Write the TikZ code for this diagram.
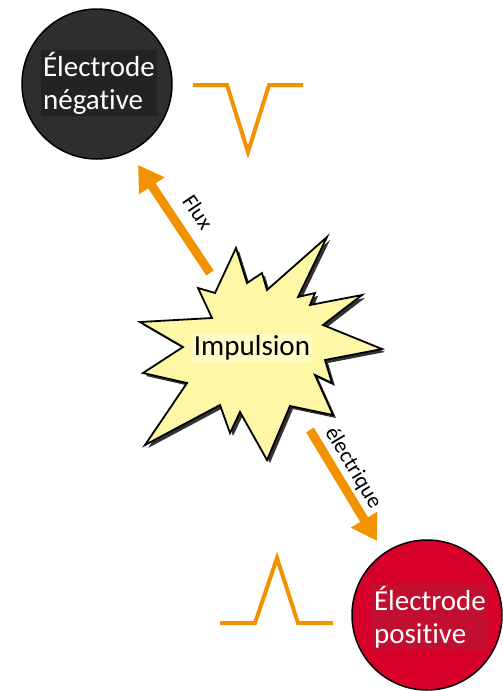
\documentclass[tikz,border=0pt]{standalone}
\usepackage{fontspec}
\setmainfont[Ligatures={NoCommon}]{Carlito}
\usetikzlibrary{arrows.meta}
\definecolor{orng}{HTML}{F39200}
\definecolor{negfill}{HTML}{2E2E2E}
\definecolor{negbox}{HTML}{232323}
\definecolor{posfill}{HTML}{D7002B}
\definecolor{posbox}{HTML}{C20F30}
\definecolor{starfill}{HTML}{FDF7A6}
\definecolor{starbox}{HTML}{FFFBC6}
\begin{document}
\begin{tikzpicture}[x=1pt,y=-1pt,
  electrode/.style={circle, draw=black, line width=1.5pt, minimum size=150pt, inner sep=0pt},
  etext/.style={text=white, font=\fontsize{29}{33}\selectfont, align=left, inner sep=2pt},
  pulse/.style={draw=orng, line width=4pt, line join=miter},
  flow/.style={draw=orng, line width=9pt, -{Triangle[width=29pt,length=25pt]}},
  lbl/.style={font=\fontsize{22}{25}\selectfont, inner sep=0pt}]
\useasboundingbox (0,0) rectangle (503,691);

% electrodes
\node[electrode, fill=negfill] (neg) at (97,84) {};
\node[etext, fill=negbox] (negtext) at (99,83) {Électrode\\négative};
\node[electrode, fill=posfill] (pos) at (427,615) {};
\node[etext, fill=posbox] (postext) at (430,617) {Électrode\\positive};

% pulses
\draw[pulse] (193,85) -- (227,85) -- (248,152) -- (269,85) -- (303,85);
\draw[pulse] (220,623) -- (255,623) -- (277,558) -- (298,623) -- (333,623);

% starburst
\def\starpath{(236,248) -- (247,283) -- (262,273) -- (267,290) -- (327,237) -- (298,297)
  -- (315,293) -- (310,305) -- (362,295) -- (323,325) -- (382,349) -- (325,360)
  -- (332,383) -- (315,375) -- (333,415) -- (290,406) -- (267,460) -- (240,412)
  -- (230,433) -- (220,405) -- (145,445) -- (187,383) -- (143,373) -- (183,347)
  -- (140,322) -- (212,318) -- (198,288) -- (215,293) -- cycle}
\fill[black!80, shift={(3,3)}] \starpath;
\draw[fill=starfill, draw=black, line width=1.8pt, line join=miter] \starpath;
\node[fill=starbox, font=\fontsize{29}{33}\selectfont, inner sep=2pt] (imp) at (252,348) {Impulsion};

% flow arrows
\coordinate (f1) at (210,273);
\coordinate (f2) at (138,165);
\coordinate (e1) at (310,430);
\coordinate (e2) at (377,541);
\draw[flow] (f1) -- (f2);
\draw[flow] (e1) -- (e2);
\node[lbl, rotate=-56] (flux) at (198,212) {Flux};
\node[lbl, rotate=-59] (elec) at (353,468) {électrique};
\end{tikzpicture}
\end{document}
